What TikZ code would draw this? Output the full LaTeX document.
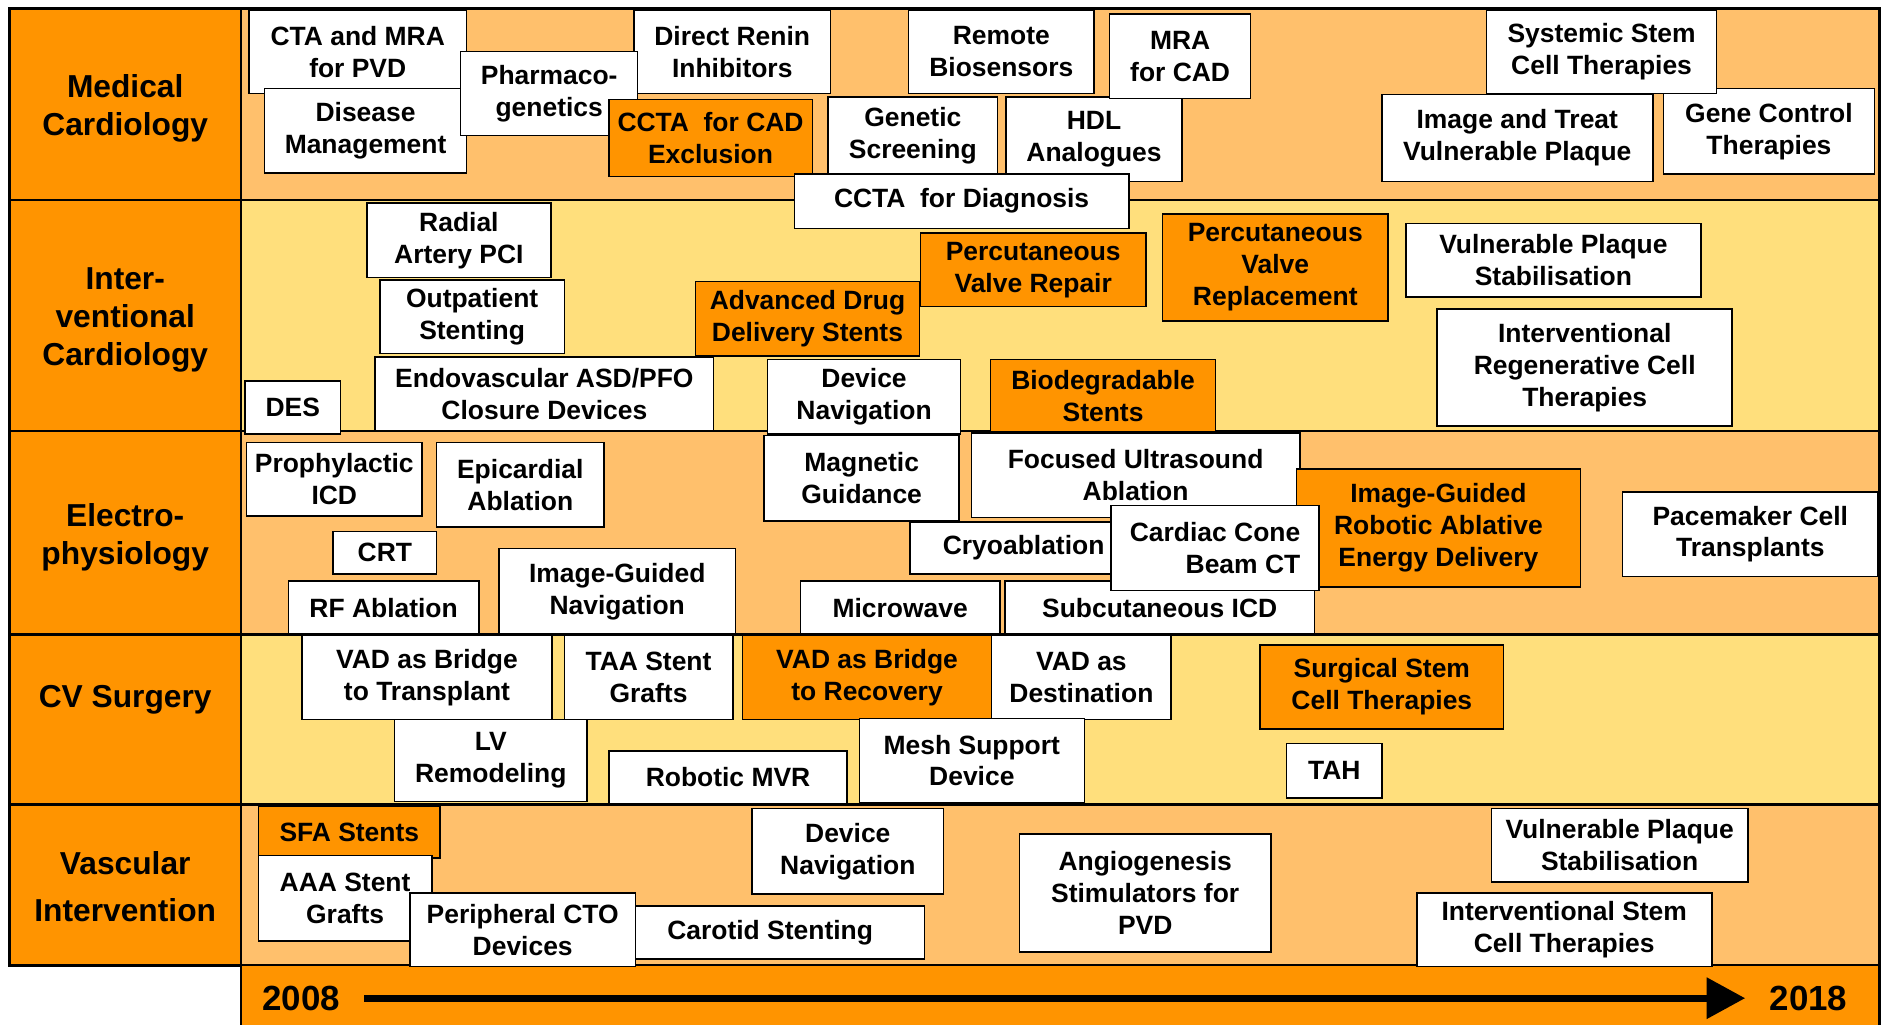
\documentclass[tikz,border=0pt]{standalone}
\usepackage{fontspec}
\setmainfont{Liberation Sans}
\usetikzlibrary{arrows.meta}

\definecolor{hotorange}{HTML}{FF9400}
\definecolor{paleorange}{HTML}{FFC06C}
\definecolor{paleyellow}{HTML}{FFDF7C}

\begin{document}
\begin{tikzpicture}[x = 0.02cm, y = -0.02cm,
  tech/.style = {draw, fill = white, line width = 0.7pt, anchor = north west,
    align = center, inner sep = 0pt, font = \fontsize{12.5}{15.1}\selectfont\bfseries},
  hot/.style = {tech, fill = hotorange},
  boxsize/.style 2 args = {minimum width = #1*0.02cm, minimum height = #2*0.02cm},
  rowlabel/.style = {align = center, font = \fontsize{15}{17.9}\selectfont\bfseries},
  cell/.style = {draw, line width = 1.2pt},
  year/.style = {font = \fontsize{16.5}{18}\selectfont\bfseries, inner xsep = 0.4cm},
  timeline/.style = {line width = 3.4pt, -{Triangle[length = 0.64cm, width = 0.66cm]}}]

  \useasboundingbox (0,0) rectangle (1568,851);

  \foreach \top/\bot/\shade in {7/166/paleorange, 166/358/paleyellow,
      358/527/paleorange, 527/668/paleyellow, 668/802/paleorange} {
    \draw[cell, fill = hotorange] (8,\top) rectangle (200,\bot);
    \draw[cell, fill = \shade] (200,\top) rectangle (1561,\bot);
  }
  \fill[hotorange] (200,802) rectangle (1561,851);
  \draw[cell] (200,802) -- (200,851);
  \draw[cell] (1561,802) -- (1561,851);

  \node[rowlabel] (medcard) at (104,90) {Medical\\Cardiology};
  \node[rowlabel] (intcard) at (104,266) {Inter-\\ventional\\Cardiology};
  \node[rowlabel] (ephys) at (104,446) {Electro-\\physiology};
  \node[rowlabel] (cvsurg) at (104,581) {CV Surgery};
  \node[rowlabel] (vascint) at (104,736) {Vascular\\[0.15cm]Intervention};

  \node[tech, boxsize = {181}{69}] (ctamra) at (206,8) {CTA and MRA\\for PVD};
  \node[tech, boxsize = {168}{70}] (disease) at (219,73) {Disease\\Management};
  \node[tech, boxsize = {163}{69}] (renin) at (526,8) {Direct Renin\\Inhibitors};
  \node[tech, boxsize = {147}{70}] (pharma) at (382,42) {Pharmaco-\\genetics};
  \node[hot, boxsize = {169}{64}] (ccexcl) at (505,82) {CCTA~ for CAD\\Exclusion};
  \node[tech, boxsize = {154}{69}] (biosens) at (754,8) {Remote\\Biosensors};
  \node[tech, boxsize = {141}{64}] (genetic) at (687,80) {Genetic\\Screening};
  \node[tech, boxsize = {146}{70}] (hdl) at (835,80) {HDL\\Analogues};
  \node[tech, boxsize = {117}{70}] (mracad) at (921,11) {MRA\\for CAD};
  \node[tech, boxsize = {278}{45}] (ccdiag) at (659,144) {CCTA~ for Diagnosis};
  \node[tech, boxsize = {175}{71}] (genectrl) at (1381,73) {Gene Control\\Therapies};
  \node[tech, boxsize = {191}{69}] (systemic) at (1234,8) {Systemic Stem\\Cell Therapies};
  \node[tech, boxsize = {225}{72}] (imgtreat) at (1147,78) {Image and Treat\\Vulnerable Plaque};

  \node[tech, boxsize = {153}{62}] (radial) at (304,168) {Radial\\Artery PCI};
  \node[tech, boxsize = {153}{61}] (outpat) at (315,232) {Outpatient\\Stenting};
  \node[tech, boxsize = {281}{61}] (endovasc) at (311,296) {Endovascular ASD/PFO\\Closure Devices};
  \node[tech, boxsize = {79}{44}] (des) at (203,316) {DES};
  \node[hot, boxsize = {186}{62}] (adds) at (577,233) {Advanced Drug\\Delivery Stents};
  \node[hot, boxsize = {187}{61}] (pvrepair) at (764,193) {Percutaneous\\Valve Repair};
  \node[hot, boxsize = {187}{89}] (pvreplace) at (965,177) {Percutaneous\\Valve\\Replacement};
  \node[tech, boxsize = {160}{62}] (devnav) at (637,298) {Device\\Navigation};
  \node[hot, boxsize = {187}{60}] (biodeg) at (822,298) {Biodegradable\\Stents};
  \node[tech, boxsize = {245}{61}] (vpstab) at (1167,185) {Vulnerable Plaque\\Stabilisation};
  \node[tech, boxsize = {245}{97}] (regen) at (1193,256) {Interventional\\Regenerative Cell\\Therapies};

  \node[tech, boxsize = {146}{61}] (prophyl) at (204,367) {Prophylactic\\ICD};
  \node[tech, boxsize = {139}{70}] (epicard) at (362,367) {Epicardial\\Ablation};
  \node[tech, boxsize = {86}{35}] (crt) at (276,441) {CRT};
  \node[tech, boxsize = {158}{44}] (rfabl) at (239,482) {RF Ablation};
  \node[tech, boxsize = {196}{71}] (ignav) at (414,455) {Image-Guided\\Navigation};
  \node[tech, boxsize = {162}{71}] (magnet) at (634,361) {Magnetic\\Guidance};
  \node[tech, boxsize = {273}{70}] (focused) at (806,359) {Focused Ultrasound\\Ablation};
  \node[hot, boxsize = {236}{98}] (robotic) at (1076,389) {Image-Guided\\Robotic Ablative\\Energy Delivery};
  \node[tech, boxsize = {189}{43}] (cryo) at (755,433) {Cryoablation};
  \node[tech, boxsize = {166}{44}] (microwave) at (664,482) {Microwave};
  \node[tech, boxsize = {257}{44}] (subcut) at (834,482) {Subcutaneous ICD};
  \node[tech, boxsize = {173}{71}, align = right] (cbct) at (922,419) {Cardiac Cone\\Beam CT};
  \node[tech, boxsize = {212}{70}] (pacemaker) at (1347,408) {Pacemaker Cell\\Transplants};

  \node[tech, boxsize = {208}{70}] (vadtx) at (250,527) {VAD as Bridge\\to Transplant};
  \node[tech, boxsize = {140}{70}] (taa) at (468,527) {TAA Stent\\Grafts};
  \node[hot, boxsize = {207}{70}] (vadrec) at (616,527) {VAD as Bridge\\to Recovery};
  \node[tech, boxsize = {149}{70}] (vaddest) at (823,527) {VAD as\\Destination};
  \node[tech, boxsize = {160}{68}] (lvrem) at (327,597) {LV\\Remodeling};
  \node[tech, boxsize = {198}{44}] (robmvr) at (505,623) {Robotic MVR};
  \node[tech, boxsize = {187}{70}] (mesh) at (713,596) {Mesh Support\\Device};
  \node[hot, boxsize = {202}{70}] (surgstem) at (1046,535) {Surgical Stem\\Cell Therapies};
  \node[tech, boxsize = {79}{45}] (tah) at (1068,617) {TAH};

  \node[hot, boxsize = {151}{43}] (sfa) at (214,669) {SFA Stents};
  \node[tech, boxsize = {144}{71}] (aaa) at (214,710) {AAA Stent\\Grafts};
  \node[tech, boxsize = {256}{44}] (carotid) at (511,752) {Carotid Stenting};
  \node[tech, boxsize = {187}{61}] (periph) at (340,741) {Peripheral CTO\\Devices};
  \node[tech, boxsize = {159}{71}] (devnavv) at (624,671) {Device\\Navigation};
  \node[tech, boxsize = {209}{98}] (angio) at (846,692) {Angiogenesis\\Stimulators for\\PVD};
  \node[tech, boxsize = {213}{61}] (vpstabv) at (1238,671) {Vulnerable Plaque\\Stabilisation};
  \node[tech, boxsize = {245}{61}] (intstem) at (1176,741) {Interventional Stem\\Cell Therapies};

  \node[year] (y2008) at (250,829) {2008};
  \node[year] (y2018) at (1502,829) {2018};
  \draw[timeline] (y2008) to (y2018);
\end{tikzpicture}
\end{document}
